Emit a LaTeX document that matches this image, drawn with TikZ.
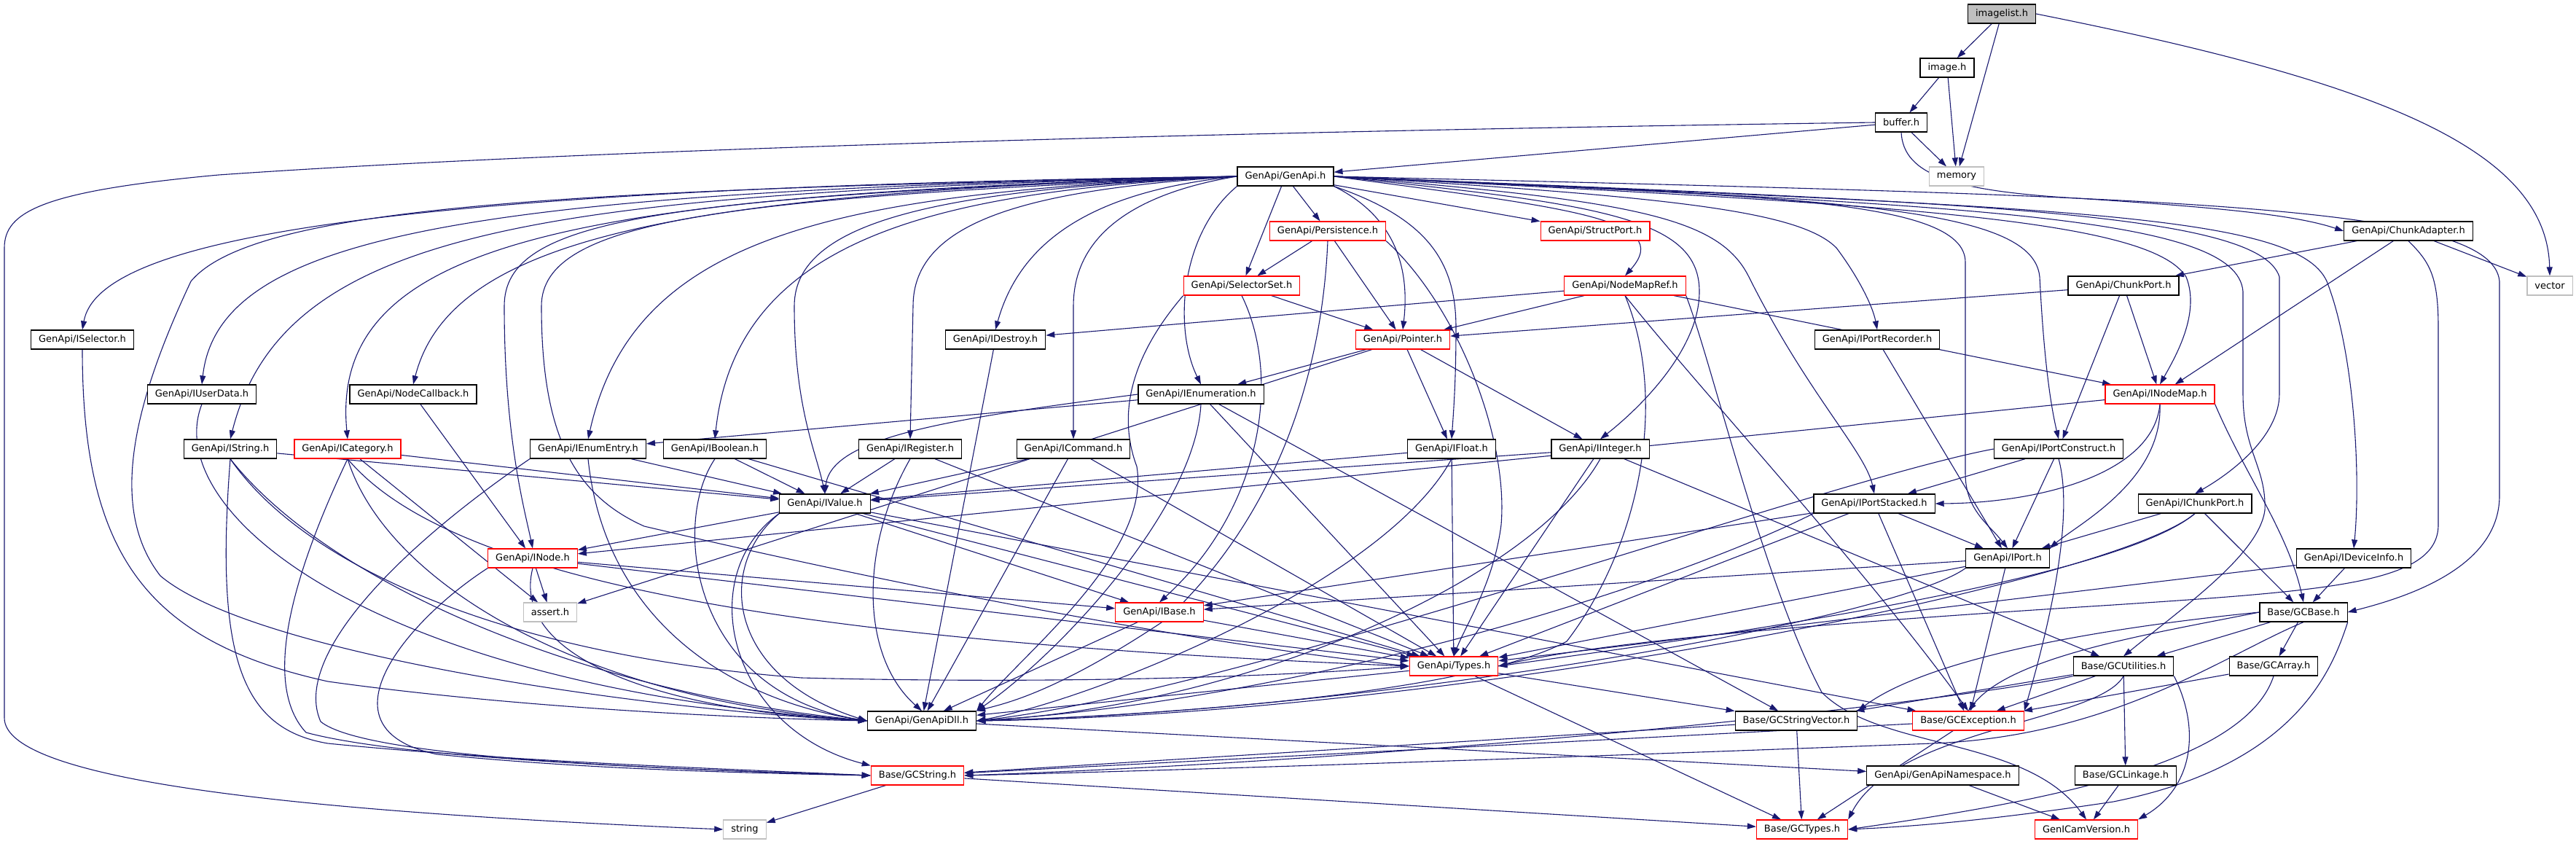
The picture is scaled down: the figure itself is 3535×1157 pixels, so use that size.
\documentclass[tikz,border=0pt]{standalone}
\usepackage{fontspec}
\setmainfont{DejaVu Sans}
\usetikzlibrary{arrows.meta,backgrounds}
\definecolor{edgec}{HTML}{191970}
\definecolor{greyfill}{HTML}{BFBFBF}
\definecolor{greyline}{HTML}{BFBFBF}
\begin{document}
\begin{tikzpicture}[x=0.5pt,y=-0.5pt,
  nd/.style={draw=black,fill=white,line width=0.6pt,inner xsep=5.25pt,inner ysep=0pt,minimum height=13pt,font=\fontsize{6.5}{7.8}\selectfont},
  rd/.style={nd,draw=red},
  ex/.style={nd,draw=greyline},
  rootnd/.style={nd,fill=greyfill},
  edg/.style={draw=edgec,line width=0.55pt,-{Triangle[length=6pt,width=4pt]}}]
\useasboundingbox (0,0) rectangle (3535,1157);
% nodes
\node[rootnd] (imagelist) at (2747,19) {imagelist.h};
\node[nd] (image) at (2672,93) {image.h};
\node[nd] (buffer) at (2609,168) {buffer.h};
\node[nd] (GenApi) at (1764,242) {GenApi/GenApi.h};
\node[ex] (memory) at (2685,242) {memory};
\node[rd] (Persistence) at (1822,317) {GenApi/Persistence.h};
\node[rd] (StructPort) at (2189,317) {GenApi/StructPort.h};
\node[nd] (ChunkAdapter) at (3305,317) {GenApi/ChunkAdapter.h};
\node[rd] (SelectorSet) at (1704,392) {GenApi/SelectorSet.h};
\node[rd] (NodeMapRef) at (2230,392) {GenApi/NodeMapRef.h};
\node[nd] (ChunkPort) at (2914,392) {GenApi/ChunkPort.h};
\node[ex] (vector) at (3499,392) {vector};
\node[nd] (ISelector) at (113,466) {GenApi/ISelector.h};
\node[nd] (IDestroy) at (1366,466) {GenApi/IDestroy.h};
\node[rd] (Pointer) at (1925,466) {GenApi/Pointer.h};
\node[nd] (IPortRecorder) at (2576,466) {GenApi/IPortRecorder.h};
\node[nd] (IUserData) at (277,541) {GenApi/IUserData.h};
\node[nd] (NodeCallback) at (567,541) {GenApi/NodeCallback.h};
\node[nd] (IEnumeration) at (1648,541) {GenApi/IEnumeration.h};
\node[rd] (INodeMap) at (2964,541) {GenApi/INodeMap.h};
\node[nd] (IString) at (316,616) {GenApi/IString.h};
\node[rd] (ICategory) at (477,616) {GenApi/ICategory.h};
\node[nd] (IEnumEntry) at (807,616) {GenApi/IEnumEntry.h};
\node[nd] (IBoolean) at (981,616) {GenApi/IBoolean.h};
\node[nd] (IRegister) at (1249,616) {GenApi/IRegister.h};
\node[nd] (ICommand) at (1473,616) {GenApi/ICommand.h};
\node[nd] (IFloat) at (1992,616) {GenApi/IFloat.h};
\node[nd] (IInteger) at (2196,616) {GenApi/IInteger.h};
\node[nd] (IPortConstruct) at (2825,616) {GenApi/IPortConstruct.h};
\node[nd] (IValue) at (1132,691) {GenApi/IValue.h};
\node[nd] (IPortStacked) at (2572,691) {GenApi/IPortStacked.h};
\node[nd] (IChunkPort) at (3012,691) {GenApi/IChunkPort.h};
\node[rd] (INode) at (731,766) {GenApi/INode.h};
\node[nd] (IPort) at (2755,766) {GenApi/IPort.h};
\node[nd] (IDeviceInfo) at (3230,766) {GenApi/IDeviceInfo.h};
\node[ex] (assert) at (755,840) {assert.h};
\node[rd] (IBase) at (1591,840) {GenApi/IBase.h};
\node[nd] (GCBase) at (3161,840) {Base/GCBase.h};
\node[rd] (Types) at (1995,914) {GenApi/Types.h};
\node[nd] (GCUtilities) at (2914,914) {Base/GCUtilities.h};
\node[nd] (GCArray) at (3120,914) {Base/GCArray.h};
\node[nd] (GenApiDll) at (1265,989) {GenApi/GenApiDll.h};
\node[nd] (GCStringVector) at (2465,989) {Base/GCStringVector.h};
\node[rd] (GCException) at (2701,989) {Base/GCException.h};
\node[rd] (GCString) at (1259,1064) {Base/GCString.h};
\node[nd] (GenApiNamespace) at (2666,1064) {GenApi/GenApiNamespace.h};
\node[nd] (GCLinkage) at (2917,1064) {Base/GCLinkage.h};
\node[ex] (string) at (1022,1138) {string};
\node[rd] (GCTypes) at (2473,1138) {Base/GCTypes.h};
\node[rd] (GenICamVersion) at (2863,1138) {GenICamVersion.h};
\begin{scope}[on background layer]
% top
\draw[edg] (imagelist) -- (image);
\draw[edg] (imagelist) -- (memory);
\draw[edg] (imagelist.east) .. controls (3250,110) and (3495,200) .. (vector.north);
\draw[edg] (image) -- (buffer);
\draw[edg] (image) -- (memory);
\draw[edg] (buffer) -- (GenApi);
\draw[edg] (buffer) -- (memory);
\draw[edg] (buffer.west) .. controls (1700,180) and (800,205) .. (300,240) .. controls (60,262) and (6,290) .. (6,340) -- (6,985) .. controls (6,1070) and (400,1110) .. (880,1133) .. controls (940,1136) and (970,1137) .. (string.west);
\draw[edg] (buffer.south) .. controls (2612,240) and (2680,262) .. (2850,272) .. controls (3050,285) and (3150,295) .. (ChunkAdapter.west);
% GenApi fan left
\draw[edg] (GenApi.west) .. controls (500,258) and (135,330) .. (ISelector.north);
\draw[edg] (GenApi.west) .. controls (650,262) and (300,320) .. (IUserData.north);
\draw[edg] (GenApi.west) .. controls (750,265) and (390,310) .. (IString.north);
\draw[edg] (GenApi.west) .. controls (820,268) and (450,320) .. (ICategory.north);
\draw[edg] (GenApi.west) .. controls (950,265) and (620,320) .. (NodeCallback.north);
\draw[edg] (GenApi.west) .. controls (900,270) and (692,300) .. (692,420) .. controls (692,600) and (720,700) .. (INode.north);
\draw[edg] (GenApi.west) .. controls (1000,272) and (743,300) .. (743,420) .. controls (743,600) and (790,680) .. (884,722) .. controls (1300,820) and (1700,890) .. (Types.west);
\draw[edg] (GenApi.west) .. controls (1150,265) and (870,320) .. (IEnumEntry.north);
\draw[edg] (GenApi.west) .. controls (1300,262) and (1011,320) .. (IBoolean.north);
\draw[edg] (GenApi.west) .. controls (1300,260) and (1090,300) .. (1090,420) .. controls (1090,560) and (1120,620) .. (IValue.north);
\draw[edg] (GenApi.west) .. controls (1420,260) and (1253,300) .. (1253,420) -- (IRegister.north);
\draw[edg] (GenApi.west) .. controls (1500,262) and (1400,330) .. (IDestroy.north);
\draw[edg] (GenApi.west) .. controls (1600,258) and (1473,300) .. (1473,420) -- (ICommand.north);
\draw[edg] (GenApi.south west) .. controls (1620,320) and (1610,450) .. (IEnumeration.north);
\draw[edg] (GenApi.west) .. controls (800,260) and (350,280) .. (262,386) .. controls (180,560) and (150,700) .. (220,790) .. controls (350,900) and (900,975) .. (GenApiDll.west);
% GenApi fan down/right
\draw[edg] (GenApi) -- (Persistence);
\draw[edg] (GenApi) -- (SelectorSet);
\draw[edg] (GenApi.south east) .. controls (1900,290) and (1937,350) .. (Pointer.north);
\draw[edg] (GenApi.south east) .. controls (1960,300) and (1998,360) .. (1998,450) .. controls (1998,520) and (1995,560) .. (IFloat.north);
\draw[edg] (GenApi) -- (StructPort);
\draw[edg] (GenApi.east) .. controls (2150,285) and (2300,300) .. (NodeMapRef.north);
\draw[edg] (GenApi.east) .. controls (2200,280) and (2332,300) .. (2332,400) .. controls (2332,480) and (2250,560) .. (IInteger.north);
\draw[edg] (GenApi.east) .. controls (2250,275) and (2360,300) .. (2400,380) .. controls (2480,540) and (2560,620) .. (IPortStacked.north);
\draw[edg] (GenApi.east) .. controls (2300,270) and (2470,290) .. (2520,340) .. controls (2550,380) and (2570,420) .. (IPortRecorder.north);
\draw[edg] (GenApi.east) .. controls (2400,268) and (2697,270) .. (2697,360) -- (2697,650) .. controls (2697,700) and (2730,720) .. (IPort.north);
\draw[edg] (GenApi.east) .. controls (2500,272) and (2790,280) .. (2799,380) .. controls (2805,500) and (2815,560) .. (IPortConstruct.north);
\draw[edg] (GenApi.east) .. controls (2600,280) and (2950,300) .. (3000,380) .. controls (3020,430) and (2985,490) .. (INodeMap.north);
\draw[edg] (GenApi.east) .. controls (2700,278) and (3100,290) .. (3128,380) -- (3128,540) .. controls (3128,600) and (3060,650) .. (IChunkPort.north);
\draw[edg] (GenApi.east) .. controls (2700,282) and (3070,295) .. (3078,400) -- (3078,540) .. controls (3078,620) and (3110,640) .. (3108,700) .. controls (3100,760) and (3000,830) .. (GCUtilities.north);
\draw[edg] (GenApi.east) .. controls (2800,285) and (3150,290) .. (3193,386) .. controls (3230,480) and (3240,650) .. (IDeviceInfo.north);
\draw[edg] (GenApi.east) .. controls (3000,270) and (3420,280) .. (3430,386) -- (3430,680) .. controls (3430,780) and (3300,820) .. (GCBase.east);
% Persistence, SelectorSet, NodeMapRef
\draw[edg] (Persistence) -- (SelectorSet);
\draw[edg] (Persistence) -- (Pointer);
\draw[edg] (Persistence.south east) .. controls (2000,420) and (2070,600) .. (2060,720) .. controls (2050,800) and (2010,860) .. (Types.north);
\draw[edg] (Persistence.south) .. controls (1815,500) and (1760,700) .. (1600,850) .. controls (1450,950) and (1380,965) .. (GenApiDll.north east);
\draw[edg] (SelectorSet) -- (Pointer);
\draw[edg] (SelectorSet.south) .. controls (1760,520) and (1730,700) .. (IBase.north);
\draw[edg] (SelectorSet.south west) .. controls (1560,480) and (1530,560) .. (1560,640) .. controls (1580,760) and (1400,900) .. (GenApiDll.north east);
\draw[edg] (NodeMapRef) -- (IDestroy);
\draw[edg] (NodeMapRef) -- (Pointer);
\draw[edg] (NodeMapRef) -- (INodeMap);
\draw[edg] (NodeMapRef.south) .. controls (2290,550) and (2250,750) .. (2150,880) .. controls (2000,960) and (1500,985) .. (GenApiDll.east);
\draw[edg] (NodeMapRef.south) .. controls (2320,520) and (2560,780) .. (GCException.north);
\draw[edg] (NodeMapRef.south east) .. controls (2350,500) and (2420,800) .. (2500,950) .. controls (2580,1030) and (2780,1010) .. (GenICamVersion.north);
% ChunkAdapter, ChunkPort
\draw[edg] (ChunkAdapter) -- (ChunkPort);
\draw[edg] (ChunkAdapter) -- (INodeMap);
\draw[edg] (ChunkAdapter) -- (vector);
\draw[edg] (ChunkAdapter.south) .. controls (3335,360) and (3346,380) .. (3346,450) -- (3346,720) .. controls (3346,800) and (3200,810) .. (2900,830) .. controls (2500,855) and (2200,880) .. (Types.east);
\draw[edg] (ChunkPort) -- (Pointer);
\draw[edg] (ChunkPort) -- (INodeMap);
\draw[edg] (ChunkPort) -- (IPortConstruct);
% Pointer, IPortRecorder
\draw[edg] (Pointer) -- (IEnumeration);
\draw[edg] (Pointer) -- (IFloat);
\draw[edg] (Pointer) -- (IInteger);
\draw[edg] (Pointer) -- (assert);
\draw[edg] (IPortRecorder) -- (IPort);
% IEnumeration
\draw[edg] (IEnumeration) -- (IEnumEntry);
\draw[edg] (IEnumeration.west) .. controls (1300,575) and (1140,600) .. (IValue.north);
\draw[edg] (IEnumeration.south) .. controls (1640,700) and (1450,900) .. (GenApiDll.north east);
\draw[edg] (IEnumeration) -- (Types);
\draw[edg] (IEnumeration) -- (GCStringVector);
% INodeMap
\draw[edg] (INodeMap) -- (INode);
\draw[edg] (INodeMap.south) .. controls (2955,650) and (2800,690) .. (IPortStacked.east);
\draw[edg] (INodeMap.south) .. controls (2968,660) and (2850,720) .. (IPort.north east);
\draw[edg] (INodeMap.south east) .. controls (3080,650) and (3140,730) .. (GCBase.north);
% small left ones
\draw[edg] (NodeCallback) -- (INode);
\draw[edg] (IUserData.south) .. controls (220,700) and (500,940) .. (GenApiDll.west);
\draw[edg] (ISelector.south) .. controls (113,760) and (200,880) .. (450,935) .. controls (700,970) and (1000,985) .. (GenApiDll.west);
\draw[edg] (IDestroy) -- (GenApiDll);
% IString
\draw[edg] (IString) -- (IValue);
\draw[edg] (IString.south) .. controls (295,900) and (330,1000) .. (450,1020) .. controls (700,1045) and (1000,1055) .. (GCString.west);
\draw[edg] (IString.south) .. controls (420,780) and (700,900) .. (1100,930) .. controls (1500,940) and (1800,925) .. (Types.west);
\draw[edg] (IString.south) .. controls (450,800) and (800,950) .. (GenApiDll.west);
% ICategory
\draw[edg] (ICategory) -- (IValue);
\draw[edg] (ICategory.south) .. controls (420,750) and (350,930) .. (420,1005) .. controls (550,1040) and (900,1055) .. (GCString.west);
\draw[edg] (ICategory.south) .. controls (530,800) and (800,960) .. (GenApiDll.west);
\draw[edg] (ICategory.south) .. controls (620,800) and (1100,880) .. (Types.west);
\draw[edg] (ICategory) -- (assert);
% IEnumEntry
\draw[edg] (IEnumEntry) -- (IValue);
\draw[edg] (IEnumEntry.south) .. controls (830,850) and (1000,960) .. (GenApiDll.west);
\draw[edg] (IEnumEntry.south west) .. controls (550,750) and (400,900) .. (440,990) .. controls (500,1040) and (900,1055) .. (GCString.west);
% IBoolean, IRegister, ICommand
\draw[edg] (IBoolean) -- (IValue);
\draw[edg] (IBoolean.south) .. controls (920,720) and (950,950) .. (GenApiDll.west);
\draw[edg] (IBoolean) -- (Types);
\draw[edg] (IRegister) -- (IValue);
\draw[edg] (IRegister.south) .. controls (1180,750) and (1180,900) .. (GenApiDll.north);
\draw[edg] (IRegister) -- (Types);
\draw[edg] (ICommand) -- (IValue);
\draw[edg] (ICommand) -- (GenApiDll);
\draw[edg] (ICommand) -- (Types);
% IFloat, IInteger
\draw[edg] (IFloat) -- (IValue);
\draw[edg] (IFloat.south) .. controls (1900,800) and (1500,960) .. (GenApiDll.east);
\draw[edg] (IFloat) -- (Types);
\draw[edg] (IInteger) -- (IValue);
\draw[edg] (IInteger.south) .. controls (2100,800) and (1700,970) .. (GenApiDll.east);
\draw[edg] (IInteger) -- (Types);
\draw[edg] (IInteger) -- (GCUtilities);
% IPortConstruct
\draw[edg] (IPortConstruct) -- (IPortStacked);
\draw[edg] (IPortConstruct) -- (IPort);
\draw[edg] (IPortConstruct.west) .. controls (2500,660) and (1700,950) .. (GenApiDll.east);
\draw[edg] (IPortConstruct.south) .. controls (2850,720) and (2800,900) .. (GCException.north east);
% IValue
\draw[edg] (IValue) -- (INode);
\draw[edg] (IValue) -- (IBase);
\draw[edg] (IValue.south west) .. controls (980,780) and (1000,930) .. (GenApiDll.west);
\draw[edg] (IValue.south west) .. controls (950,790) and (1000,1000) .. (GCString.north west);
\draw[edg] (IValue) -- (Types);
\draw[edg] (IValue) -- (GCException);
% IPortStacked
\draw[edg] (IPortStacked) -- (IPort);
\draw[edg] (IPortStacked) -- (IBase);
\draw[edg] (IPortStacked.south west) .. controls (2300,800) and (1800,960) .. (GenApiDll.east);
\draw[edg] (IPortStacked) -- (Types);
\draw[edg] (IPortStacked) -- (GCException);
% IChunkPort
\draw[edg] (IChunkPort) -- (IPort);
\draw[edg] (IChunkPort.south) .. controls (2900,800) and (2000,980) .. (GenApiDll.east);
\draw[edg] (IChunkPort.south) .. controls (2900,800) and (2300,880) .. (Types.east);
\draw[edg] (IChunkPort) -- (GCBase);
% INode
\draw[edg] (INode) -- (assert);
\draw[edg] (INode) -- (IBase);
\draw[edg] (INode) -- (Types);
\draw[edg] (INode.south) .. controls (700,900) and (900,975) .. (GenApiDll.west);
\draw[edg] (INode.south west) .. controls (560,850) and (430,1000) .. (600,1035) .. controls (800,1055) and (1000,1060) .. (GCString.west);
% IPort, IDeviceInfo, IBase
\draw[edg] (IPort) -- (IBase);
\draw[edg] (IPort) -- (Types);
\draw[edg] (IPort.south west) .. controls (2600,850) and (1900,975) .. (GenApiDll.east);
\draw[edg] (IPort) -- (GCException);
\draw[edg] (IDeviceInfo) -- (GCBase);
\draw[edg] (IDeviceInfo) -- (Types);
\draw[edg] (IBase) -- (GenApiDll);
\draw[edg] (IBase) -- (Types);
% GCBase
\draw[edg] (GCBase) -- (GCUtilities);
\draw[edg] (GCBase) -- (GCArray);
\draw[edg] (GCBase.west) .. controls (2950,870) and (2760,900) .. (GCException.north);
\draw[edg] (GCBase.west) .. controls (2900,860) and (2650,900) .. (GCStringVector.north east);
\draw[edg] (GCBase.south) .. controls (3050,900) and (2900,1010) .. (2652,1020) .. controls (2000,1045) and (1500,1060) .. (GCString.east);
\draw[edg] (GCBase.south east) .. controls (3200,920) and (3150,1050) .. (2900,1100) .. controls (2700,1130) and (2600,1135) .. (GCTypes.east);
% Types
\draw[edg] (Types) -- (GenApiDll);
\draw[edg] (Types) -- (GCStringVector);
\draw[edg] (Types) -- (GCTypes);
% GCUtilities
\draw[edg] (GCUtilities) -- (GCException);
\draw[edg] (GCUtilities) -- (GCStringVector);
\draw[edg] (GCUtilities.south west) .. controls (2700,960) and (2000,1040) .. (GCString.east);
\draw[edg] (GCUtilities.south) .. controls (2880,990) and (2600,1000) .. (GCTypes.north east);
\draw[edg] (GCUtilities) -- (GCLinkage);
\draw[edg] (GCUtilities.south east) .. controls (3020,1000) and (3010,1080) .. (GenICamVersion.north east);
% GCArray
\draw[edg] (GCArray) -- (GCException);
\draw[edg] (GCArray.south) .. controls (3080,1050) and (2800,1100) .. (GCTypes.east);
% lower
\draw[edg] (GenApiDll) -- (GenApiNamespace);
\draw[edg] (GCStringVector) -- (GCString);
\draw[edg] (GCStringVector) -- (GCTypes);
\draw[edg] (GCException) -- (GCString);
\draw[edg] (GCException) -- (GCTypes);
\draw[edg] (GCString) -- (string);
\draw[edg] (GCString) -- (GCTypes);
\draw[edg] (GenApiNamespace) -- (GenICamVersion);
\draw[edg] (GCLinkage) -- (GenICamVersion);
\end{scope}
\end{tikzpicture}
\end{document}
